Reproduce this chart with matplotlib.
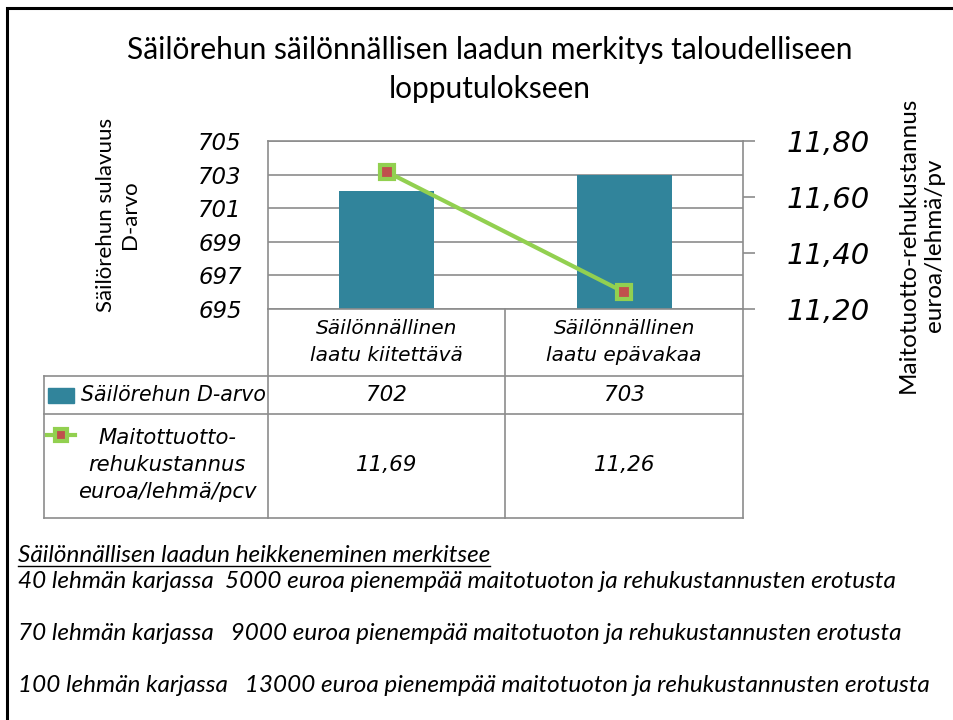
import matplotlib.pyplot as plt
import matplotlib.transforms as mtransforms
from matplotlib.patches import Rectangle
from matplotlib.lines import Line2D

# data
categories = ['Säilönnällinen\nlaatu kiitettävä', 'Säilönnällinen\nlaatu epävakaa']
d_arvo = [702, 703]
maitotuotto = [11.69, 11.26]
d_labels = ['702', '703']
m_labels = ['11,69', '11,26']
left_ticks = [695, 697, 699, 701, 703, 705]
right_ticks = [11.20, 11.40, 11.60, 11.80]
right_labels = ['11,20', '11,40', '11,60', '11,80']
notes = ['40 lehmän karjassa  5000 euroa pienempää maitotuoton ja rehukustannusten erotusta',
         '70 lehmän karjassa   9000 euroa pienempää maitotuoton ja rehukustannusten erotusta',
         '100 lehmän karjassa   13000 euroa pienempää maitotuoton ja rehukustannusten erotusta']

W, H = 954, 720
bar_col = '#31849b'
line_col = '#92d050'
grid_col = '#8c8c8c'
sans = 'Lato'
obl = 'DejaVu Sans'

def fx(px):
    return px / W

def fy(py):
    return 1 - py / H

fig = plt.figure(figsize=(W / 100, H / 100), dpi=100)

# outer frame
fig.patches.append(Rectangle((fx(7), fy(730)), fx(960), 722 / H, transform=fig.transFigure,
                             fill=False, ec='black', lw=2.2))

ax = fig.add_axes([fx(268), fy(309), fx(743 - 268), (309 - 141) / H])
x = [0, 1]
ax.bar(x, d_arvo, width=0.4, color=bar_col, zorder=2)
ax.set_xlim(-0.5, 1.5)
ax.set_ylim(695, 705)
ax.set_yticks(left_ticks)
ax.set_yticklabels([str(t) for t in left_ticks], fontsize=16.5, fontstyle='oblique', family=obl)
ax.tick_params(axis='y', length=0, pad=19)
ax.set_xticks([])
ax.grid(axis='y', color=grid_col, lw=1.2, zorder=0)
for s in ['left', 'right', 'top', 'bottom']:
    ax.spines[s].set_color(grid_col)
    ax.spines[s].set_linewidth(1.2)

ax2 = ax.twinx()
ax2.plot(x, maitotuotto, color=line_col, lw=3, marker='s', markersize=10,
         markerfacecolor='#c0504d', markeredgecolor=line_col, markeredgewidth=3, zorder=3)
ax2.set_ylim(11.20, 11.80)
ax2.set_yticks(right_ticks)
ax2.set_yticklabels(right_labels, fontsize=21, fontstyle='oblique', family=obl)
ax2.tick_params(axis='y', length=8.6, width=1.2, color=grid_col, pad=23)
for s in ['left', 'right', 'top', 'bottom']:
    ax2.spines[s].set_visible(False)

# title and axis titles
fig.text(fx(490), fy(50), 'Säilörehun säilönnällisen laadun merkitys taloudelliseen',
         ha='center', va='center', fontsize=21.5, family=sans)
fig.text(fx(490), fy(89), 'lopputulokseen', ha='center', va='center', fontsize=21.5, family=sans)
fig.text(fx(118), fy(215), 'Säilörehun sulavuus\nD-arvo', rotation=90, ha='center', va='center',
         fontsize=16, family=sans, linespacing=1.25)
fig.text(fx(921), fy(245), 'Maitotuotto-rehukustannus\neuroa/lehmä/pv', rotation=90, ha='center',
         va='center', fontsize=17.5, family=sans, linespacing=1.3)

# data table
tr = mtransforms.blended_transform_factory(ax.transData, fig.transFigure)
def hline(x0, x1, y):
    fig.add_artist(Line2D([fx(x0), fx(x1)], [fy(y), fy(y)], color=grid_col, lw=1.2))
def vline(x0, y0, y1):
    fig.add_artist(Line2D([fx(x0), fx(x0)], [fy(y0), fy(y1)], color=grid_col, lw=1.2))

for yy in [376, 414, 518]:
    hline(44, 743, yy)
vline(44, 376, 518)
vline(268, 309, 518)
vline(505, 309, 518)
vline(743, 309, 518)

for i, c in enumerate(categories):
    ax.text(x[i], fy(342), c, transform=tr, ha='center', va='center', fontsize=14.5,
            fontstyle='italic', family=obl, linespacing=1.5)
    ax.text(x[i], fy(395), d_labels[i], transform=tr, ha='center', va='center', fontsize=15.5,
            fontstyle='italic', family=obl)
    ax.text(x[i], fy(465), m_labels[i], transform=tr, ha='center', va='center', fontsize=15.5,
            fontstyle='italic', family=obl)

fig.patches.append(Rectangle((fx(48), fy(403)), fx(26), 15 / H, transform=fig.transFigure,
                             color=bar_col))
fig.text(fx(266), fy(395), 'Säilörehun D-arvo', ha='right', va='center', fontsize=14.8,
         fontstyle='italic', family=obl)
fig.add_artist(Line2D([fx(47), fx(75)], [fy(435), fy(435)], color=line_col, lw=3))
fig.add_artist(Line2D([fx(61)], [fy(435)], color=line_col, lw=0, marker='s', markersize=8,
                      markerfacecolor='#c0504d', markeredgecolor=line_col, markeredgewidth=3))
fig.text(fx(167), fy(465), 'Maitottuotto-\nrehukustannus\neuroa/lehmä/pcv', ha='center',
         va='center', fontsize=15.2, fontstyle='italic', family=obl, linespacing=1.45)

# notes below
head = fig.text(fx(18), fy(556), 'Säilönnällisen laadun heikkeneminen merkitsee', ha='left',
                va='center', fontsize=17.5, fontstyle='italic', family=sans)
for yy, t in zip([582, 634, 686], notes):
    fig.text(fx(18), fy(yy), t, ha='left', va='center', fontsize=17.5, fontstyle='italic', family=sans)

fig.canvas.draw()
bb = head.get_window_extent()
fig.add_artist(Line2D([bb.x0 / W, bb.x1 / W], [(bb.y0 + 1) / H, (bb.y0 + 1) / H],
                      color='black', lw=1))

fig.savefig('out.png', dpi=100)
